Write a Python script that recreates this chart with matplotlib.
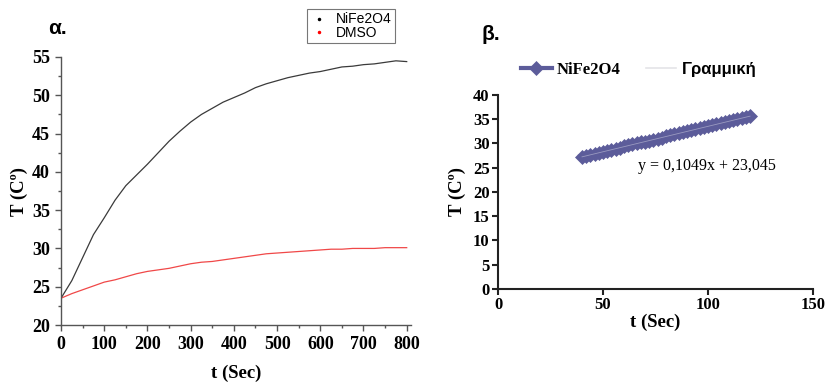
import matplotlib.pyplot as plt
import numpy as np
from matplotlib.lines import Line2D

# --- data ---
t_a = [0, 25, 50, 75, 100, 125, 150, 175, 200, 225, 250, 275, 300, 325, 350, 375, 400,
       425, 450, 475, 500, 525, 550, 575, 600, 625, 650, 675, 700, 725, 750, 775, 800]
T_nife = [23.5, 25.8, 28.8, 31.8, 34.0, 36.3, 38.2, 39.6, 41.0, 42.5, 44.0, 45.3, 46.5, 47.5,
          48.3, 49.1, 49.7, 50.3, 51.0, 51.5, 51.9, 52.3, 52.6, 52.9, 53.1, 53.4, 53.7, 53.8,
          54.0, 54.1, 54.3, 54.5, 54.4]
T_dmso = [23.5, 24.1, 24.6, 25.1, 25.6, 25.9, 26.3, 26.7, 27.0, 27.2, 27.4, 27.7, 28.0, 28.2,
          28.3, 28.5, 28.7, 28.9, 29.1, 29.3, 29.4, 29.5, 29.6, 29.7, 29.8, 29.9, 29.9, 30.0,
          30.0, 30.0, 30.1, 30.1, 30.1]

t_b = [40, 42, 44, 46, 48, 50, 52, 54, 56, 58, 60, 62, 64, 66, 68, 70, 72, 74, 76, 78, 80,
       82, 84, 86, 88, 90, 92, 94, 96, 98, 100, 102, 104, 106, 108, 110, 112, 114, 116, 118, 120]
T_b = [27.2, 27.5, 27.7, 27.9, 28.1, 28.3, 28.5, 28.7, 28.9, 29.1, 29.4, 29.6, 29.8, 30.0,
       30.2, 30.4, 30.6, 30.8, 31.0, 31.2, 31.5, 31.7, 31.9, 32.1, 32.3, 32.5, 32.7, 32.9,
       33.1, 33.3, 33.5, 33.8, 34.0, 34.2, 34.4, 34.6, 34.8, 35.0, 35.2, 35.4, 35.6]
slope, intercept = 0.1049, 23.045

serif = 'Liberation Serif'
sans = 'Liberation Sans'
plt.rcParams['font.family'] = serif
plt.rcParams['font.weight'] = 'bold'
plt.rcParams['axes.labelweight'] = 'bold'

fig = plt.figure(figsize=(8.27, 3.82), dpi=100)

# ---------- panel a ----------
ax1 = fig.add_axes([0.0738, 0.1492, 0.4232, 0.7016])
ax1.plot(t_a, T_nife, color='#3a3a3a', lw=0.9)
ax1.plot(t_a, T_dmso, color='#f04848', lw=0.9)
ax1.set_xlim(0, 810)
ax1.set_ylim(20, 55)
ax1.set_xticks(np.arange(0, 801, 100))
ax1.set_xticks(np.arange(50, 801, 100), minor=True)
ax1.set_yticks(np.arange(20, 56, 5))
ax1.set_yticks(np.arange(22.5, 55, 5), minor=True)
for s in ['top', 'right']:
    ax1.spines[s].set_visible(False)
for s in ['left', 'bottom']:
    ax1.spines[s].set_color('#555555')
    ax1.spines[s].set_linewidth(1.0)
ax1.tick_params(which='both', direction='out', color='#555555', width=1.0, labelsize=13)
ax1.tick_params(which='major', length=4, pad=4)
ax1.tick_params(which='minor', length=2.5)
ax1.set_xlabel('t (Sec)', fontsize=13.5, fontweight='bold', labelpad=8)
ax1.set_ylabel('T (Cº)', fontsize=13.5, fontweight='bold', labelpad=3)
h1 = [Line2D([], [], ls='none', marker='.', ms=3, color='black'),
      Line2D([], [], ls='none', marker='.', ms=3, color='red')]
leg1 = fig.legend(h1, ['NiFe2O4', 'DMSO'], loc='upper left',
                  bbox_to_anchor=(307 / 827, 1 - 9 / 382), frameon=True, fancybox=False,
                  prop={'family': sans, 'size': 10, 'weight': 'normal'},
                  handlelength=1.2, handletextpad=0.6,
                  borderpad=0.25, labelspacing=-0.05, borderaxespad=0)
leg1.get_frame().set_edgecolor('#555555')
leg1.get_frame().set_linewidth(0.8)
fig.text(48 / 827, 1 - 28 / 382, 'α.', family=sans, weight='bold', fontsize=15, va='center')

# ---------- panel b ----------
ax2 = fig.add_axes([0.6022, 0.2435, 0.3809, 0.5079])
ax2.plot(t_b, T_b, color='#5c5c9a', lw=5, marker='D', ms=7, mec='#5c5c9a', mew=0.5,
         label='NiFe2O4', zorder=2)
fit_x = np.array([t_b[0], t_b[-1]])
ax2.plot(fit_x, slope * fit_x + intercept, color='#9a9ac0', lw=0.6, label='Γραμμική', zorder=3)
ax2.set_xlim(0, 150)
ax2.set_ylim(0, 40)
ax2.set_xticks([0, 50, 100, 150])
ax2.set_yticks(np.arange(0, 41, 5))
for s in ['top', 'right']:
    ax2.spines[s].set_visible(False)
for s in ['left', 'bottom']:
    ax2.spines[s].set_color('#222222')
    ax2.spines[s].set_linewidth(1.5)
ax2.tick_params(direction='out', length=4, width=1.5, color='#222222', pad=2, labelsize=12)
ax2.set_xlabel('t (Sec)', fontsize=13.5, fontweight='bold', labelpad=0)
ax2.set_ylabel('T (Cº)', fontsize=13.5, fontweight='bold', labelpad=5)
ax2.text(66.5, 25.4, 'y = 0,1049x + 23,045', fontweight='normal', fontsize=11.5, va='center')
leg2 = ax2.legend(loc='lower left', bbox_to_anchor=(521 / 827, 1 - 78 / 382),
                  bbox_transform=fig.transFigure, ncol=2, frameon=False,
                  handlelength=1.85, handletextpad=0.3, columnspacing=1.5, borderaxespad=0,
                  borderpad=0, prop={'size': 12, 'weight': 'bold'})
leg2.get_lines()[0].set_linewidth(3)
leg2.get_lines()[1].set_color('#e4e4e8')
leg2.get_lines()[1].set_linewidth(1.2)
leg2.get_texts()[1].set_fontfamily(sans)
fig.text(482 / 827, 1 - 34 / 382, 'β.', family=sans, weight='bold', fontsize=15, va='center')

fig.canvas.draw()
for ax in (ax1, ax2):
    for lab in ax.get_xticklabels() + ax.get_yticklabels():
        lab.set_fontweight('bold')

fig.savefig('out.png', dpi=100)
